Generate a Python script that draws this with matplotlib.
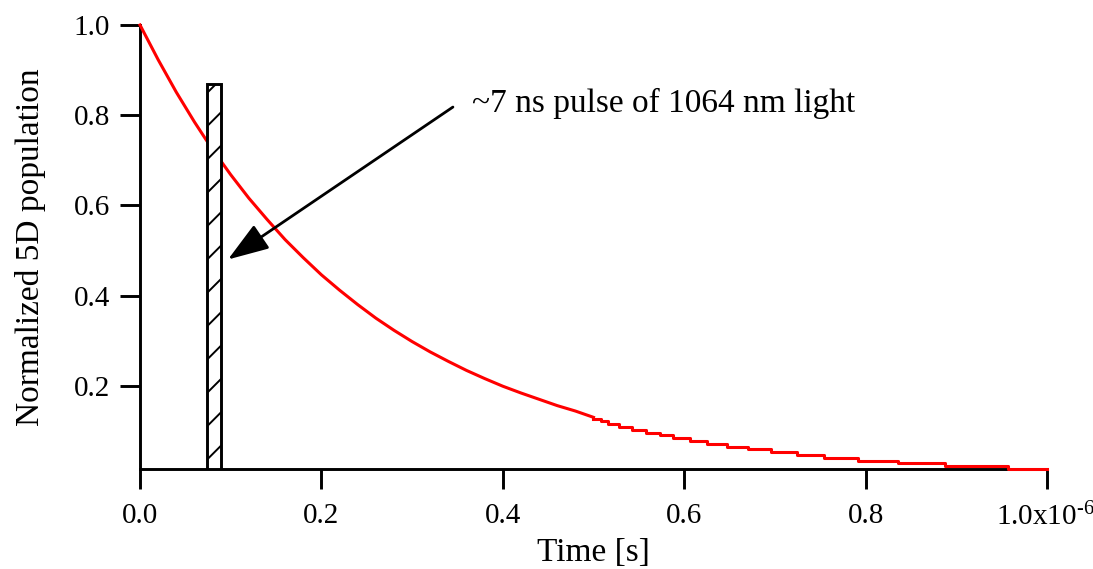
import matplotlib
matplotlib.use("Agg")
import matplotlib.pyplot as plt
import matplotlib.transforms as mtransforms
from matplotlib.patches import Rectangle

# --- data (time in microseconds) ---
# early part of the decay, drawn as a line
t_head = [0.000, 0.020, 0.040, 0.060, 0.073, 0.090, 0.100, 0.120, 0.140, 0.160,
          0.180, 0.200, 0.220, 0.240, 0.260, 0.280, 0.300, 0.320, 0.340, 0.360,
          0.380, 0.400, 0.420, 0.440, 0.460, 0.480, 0.500]
pop_head = [1.000, 0.923, 0.851, 0.785, 0.745, 0.696, 0.668, 0.616, 0.569, 0.524,
            0.484, 0.446, 0.412, 0.380, 0.350, 0.323, 0.298, 0.275, 0.254, 0.234,
            0.216, 0.199, 0.184, 0.170, 0.156, 0.144, 0.130]

# tail of the decay, visible digitiser steps (step start times and levels)
t_steps = [0.500, 0.508, 0.516, 0.528, 0.542, 0.558, 0.573, 0.588, 0.606, 0.625, 0.647,
           0.670, 0.696, 0.724, 0.754, 0.792, 0.836, 0.888, 0.957, 1.000]
pop_steps = [0.127, 0.121, 0.1156, 0.1089, 0.1022, 0.0962, 0.0904, 0.0838, 0.0771, 0.0711, 0.0651,
             0.0593, 0.0535, 0.0467, 0.0407, 0.0340, 0.0282, 0.0222, 0.0165, 0.0165]

# laser pulse window
PULSE_START = 0.0739
PULSE_END = 0.0893
PULSE_TOP = 0.869

x_ticks = [0.0, 0.2, 0.4, 0.6, 0.8, 1.0]
x_tick_labels = ["0.0", "0.2", "0.4", "0.6", "0.8", "1.0x10$^{\\text{-6}}$"]
y_ticks = [0.2, 0.4, 0.6, 0.8, 1.0]
y_tick_labels = ["0.2", "0.4", "0.6", "0.8", "1.0"]

plt.rcParams['font.family'] = ['Liberation Serif', 'DejaVu Serif']
plt.rcParams['mathtext.fontset'] = 'custom'
plt.rcParams['mathtext.rm'] = 'Liberation Serif'
plt.rcParams['mathtext.it'] = 'Liberation Serif'
plt.rcParams['hatch.linewidth'] = 1.4

TICK_FS = 21
LINE_W = 2.2

fig = plt.figure(figsize=(10.93, 5.69), dpi=100)
ax = fig.add_axes([0.1281, 0.1758, 0.8298, 0.7803])

Y_MIN = 0.0155
ax.set_xlim(0.0, 1.0)
ax.set_ylim(Y_MIN, 1.0)

# red trace sits above the spines, the pulse box above the trace
ax.plot(t_head, pop_head, color='red', lw=LINE_W, zorder=2.6, clip_on=False)
ax.plot(t_steps, pop_steps, color='red', lw=LINE_W, drawstyle='steps-post',
        zorder=2.6, clip_on=False)

pulse = Rectangle((PULSE_START, Y_MIN), PULSE_END - PULSE_START, PULSE_TOP - Y_MIN,
                  facecolor='white', edgecolor='black', hatch='/', lw=2.1, zorder=3)
ax.add_patch(pulse)

ax.annotate('', xy=(0.097, 0.48), xytext=(0.345, 0.818),
            arrowprops=dict(arrowstyle='-|>,head_length=1.1,head_width=0.38',
                            mutation_scale=23, color='black', lw=2.0,
                            shrinkA=0, shrinkB=0), zorder=4)
ax.text(0.366, 0.827, '~7 ns pulse of 1064 nm light', fontsize=24,
        ha='left', va='center')

for side in ['top', 'right']:
    ax.spines[side].set_visible(False)
for side in ['left', 'bottom']:
    ax.spines[side].set_linewidth(2.1)

ax.set_xticks(x_ticks)
ax.set_xticklabels(x_tick_labels, fontsize=TICK_FS)
ax.set_yticks(y_ticks)
ax.set_yticklabels(y_tick_labels, fontsize=TICK_FS)
ax.tick_params(axis='both', direction='out', length=14.5, width=2.1)
ax.tick_params(axis='x', pad=10)
ax.tick_params(axis='y', pad=7)

# nudge the last label (with its exponent) a little to the left
last_label = ax.xaxis.get_major_ticks()[-1].label1
last_label.set_transform(last_label.get_transform() +
                         mtransforms.ScaledTranslation(-0.02, 0, fig.dpi_scale_trans))

ax.set_xlabel('Time [s]', fontsize=24, labelpad=4)
ax.set_ylabel('Normalized 5D population', fontsize=24, labelpad=20)

fig.savefig('out.png', dpi=100)
